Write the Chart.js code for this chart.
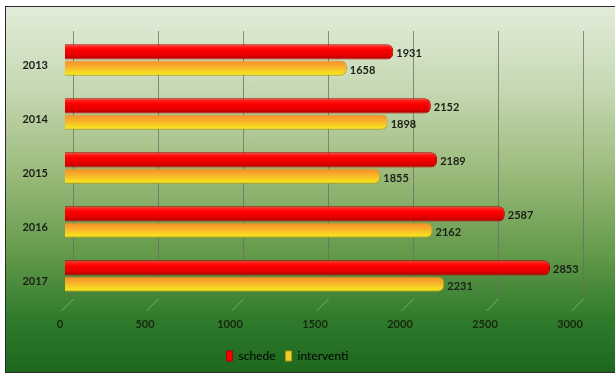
<!DOCTYPE html>
<html>
<head>
<meta charset="utf-8">
<script src="https://cdn.jsdelivr.net/npm/chart.js@4"></script>
<style>
  html, body { margin: 0; padding: 0; background: #fff; }
  #frame {
    position: absolute; left: 5px; top: 6px; width: 620px; height: 365px;
    border: 1px solid #2b2b2b;
    background: linear-gradient(to bottom, #e2ecd9 0%, #c6d9b4 22%, #9cbb7c 45%, #62994a 68%, #317b2d 85%, #1d681d 100%);
  }
  #wrap { position: absolute; left: 0; top: 0; width: 615px; height: 376px; }
</style>
</head>
<body>
<div id="frame"></div>
<div id="wrap"><canvas id="c"></canvas></div>
<script>
// anni e valori
const years = ['2013', '2014', '2015', '2016', '2017'];
const schede = [1931, 2152, 2189, 2587, 2853];
const interventi = [1658, 1898, 1855, 2162, 2231];
const xTicks = [0, 500, 1000, 1500, 2000, 2500, 3000];

const CAT_PCT = 0.6, BAR_PCT = 0.95;
const FONT = 'Lato, "Open Sans", sans-serif';

// gradiente verticale per ogni barra (effetto cilindro)
function barFill(stops, fallback) {
  return (c) => {
    const chart = c.chart, ys = chart.scales.y;
    if (!chart.chartArea || !ys || c.dataIndex == null) return fallback;
    const band = (ys.bottom - ys.top) / years.length;
    const slot = band * CAT_PCT / 2;
    const th = slot * BAR_PCT;
    const mid = ys.getPixelForValue(c.dataIndex) + (c.datasetIndex === 0 ? -slot / 2 : slot / 2);
    const g = chart.ctx.createLinearGradient(0, mid - th / 2, 0, mid + th / 2);
    stops.forEach(([p, col]) => g.addColorStop(p, col));
    return g;
  };
}

// griglia "3D": linee sul piano di fondo + diagonali del pavimento
const backGrid = {
  id: 'backGrid',
  beforeDatasetsDraw(chart) {
    const { ctx, scales: { x }, chartArea: a } = chart;
    ctx.save();
    xTicks.forEach((v) => {
      const px = Math.round(x.getPixelForValue(v) + 8) + 0.5;
      ctx.strokeStyle = 'rgba(105,110,100,0.75)';
      ctx.lineWidth = 1;
      ctx.beginPath(); ctx.moveTo(px, a.top - 2); ctx.lineTo(px, a.bottom - 4); ctx.stroke();
      ctx.strokeStyle = 'rgba(215,225,210,0.45)';
      ctx.beginPath(); ctx.moveTo(px, a.bottom - 4); ctx.lineTo(px - 12, a.bottom + 8); ctx.stroke();
    });
    ctx.restore();
  },
};

// etichette dei valori a destra delle barre
const valueLabels = {
  id: 'valueLabels',
  afterDatasetsDraw(chart) {
    const ctx = chart.ctx;
    ctx.save();
    ctx.font = 'bold 11px ' + FONT;
    ctx.fillStyle = '#1c1f18';
    ctx.textBaseline = 'middle';
    chart.data.datasets.forEach((ds, i) => {
      chart.getDatasetMeta(i).data.forEach((el, j) => {
        ctx.fillText(String(ds.data[j]), el.x + 3, el.y + 2);
      });
    });
    ctx.restore();
  },
};

new Chart(document.getElementById('c'), {
  type: 'bar',
  data: {
    labels: years,
    datasets: [
      {
        label: 'schede', data: schede,
        backgroundColor: barFill([[0, '#ff3b30'], [0.35, '#ff0000'], [0.75, '#e00000'], [1, '#a50000']], '#f00'),
        borderColor: '#b30000', borderWidth: 1,
        borderRadius: 6, borderSkipped: 'start',
      },
      {
        label: 'interventi', data: interventi,
        backgroundColor: barFill([[0, '#f58a2c'], [0.45, '#f8b42a'], [0.85, '#f6e01c'], [1, '#e8d818']], '#f5c518'),
        borderColor: '#b79a1c', borderWidth: 1,
        borderRadius: 6, borderSkipped: 'start',
      },
    ],
  },
  options: {
    indexAxis: 'y',
    responsive: true, maintainAspectRatio: false,
    animation: false,
    categoryPercentage: CAT_PCT, barPercentage: BAR_PCT,
    layout: { padding: { top: 33, right: 40, left: 0, bottom: 4 } },
    plugins: {
      tooltip: { enabled: false },
      legend: {
        position: 'bottom',
        labels: {
          boxWidth: 6, boxHeight: 10, padding: 10,
          color: '#16300e',
          font: { family: FONT, size: 12 },
          generateLabels: () => [
            { text: 'schede', fillStyle: '#f00000', strokeStyle: '#b30000', lineWidth: 1, datasetIndex: 0 },
            { text: 'interventi', fillStyle: '#f3cf2a', strokeStyle: '#b79a1c', lineWidth: 1, datasetIndex: 1 },
          ],
        },
      },
    },
    scales: {
      x: {
        min: 0, max: 3000,
        afterBuildTicks: (s) => { s.ticks = xTicks.map((v) => ({ value: v })); },
        afterFit: (s) => { s.height = 37; },
        grid: { display: false, drawTicks: false },
        border: { display: false },
        ticks: {
          color: '#17280f', padding: 15, labelOffset: -5,
          callback: (v) => String(v),
          font: { family: FONT, size: 11, weight: 'bold' },
        },
      },
      y: {
        afterFit: (s) => { s.width = 65; },
        grid: { display: false, drawTicks: false },
        border: { display: false },
        ticks: {
          color: '#1a1e16', padding: 17, labelOffset: 5,
          font: { family: FONT, size: 11, weight: 'bold' },
        },
      },
    },
  },
  plugins: [backGrid, valueLabels],
});
</script>
</body>
</html>
